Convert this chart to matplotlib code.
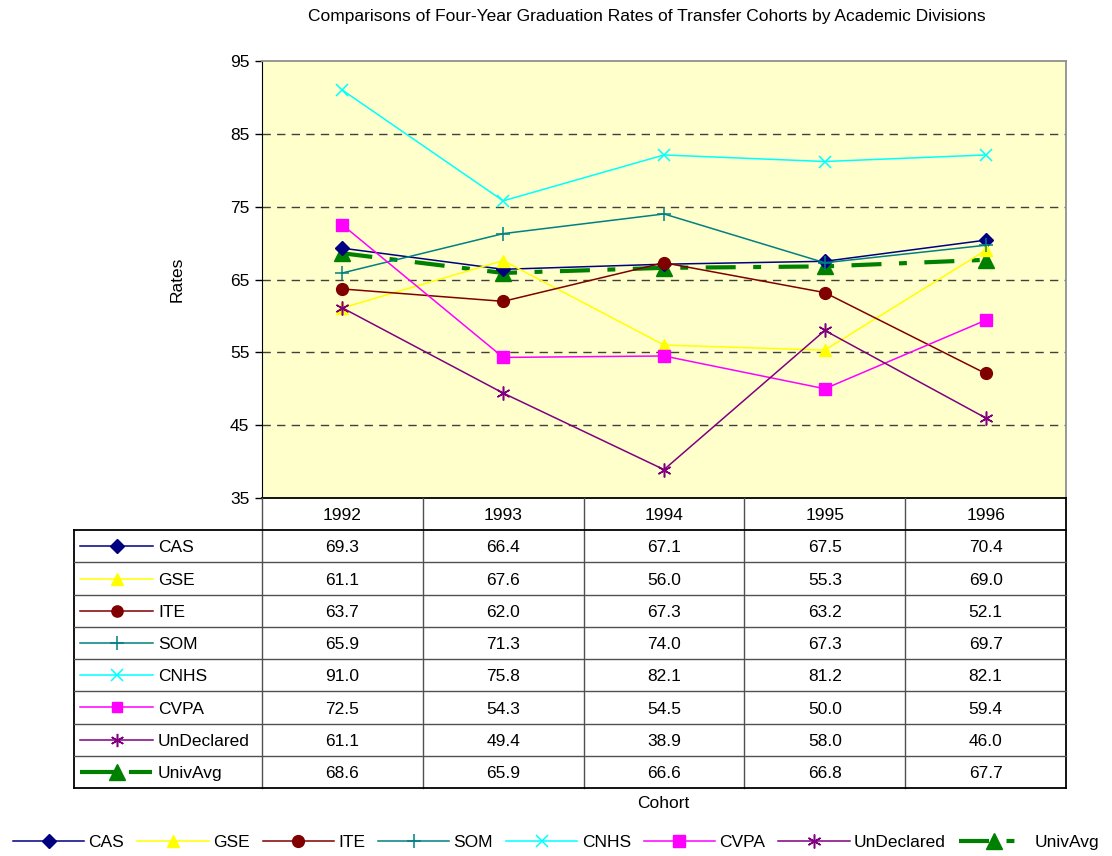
import matplotlib
matplotlib.use("Agg")
import matplotlib.pyplot as plt

plt.rcParams['font.family'] = ['Liberation Sans', 'DejaVu Sans']

years = ["1992", "1993", "1994", "1995", "1996"]
series_names = ["CAS", "GSE", "ITE", "SOM", "CNHS", "CVPA", "UnDeclared", "UnivAvg"]
cas = [69.3, 66.4, 67.1, 67.5, 70.4]
gse = [61.1, 67.6, 56.0, 55.3, 69.0]
ite = [63.7, 62.0, 67.3, 63.2, 52.1]
som = [65.9, 71.3, 74.0, 67.3, 69.7]
cnhs = [91.0, 75.8, 82.1, 81.2, 82.1]
cvpa = [72.5, 54.3, 54.5, 50.0, 59.4]
undeclared = [61.1, 49.4, 38.9, 58.0, 46.0]
univavg = [68.6, 65.9, 66.6, 66.8, 67.7]
values = [cas, gse, ite, som, cnhs, cvpa, undeclared, univavg]
yticks = [35, 45, 55, 65, 75, 85, 95]

styles = [
    dict(color="#000080", marker="D", ms=7, lw=1.1),
    dict(color="#FFFF00", marker="^", ms=9, lw=1.1),
    dict(color="#800000", marker="o", ms=8.5, lw=1.1),
    dict(color="#008080", marker="+", ms=10, lw=1.1, mew=1.1),
    dict(color="#00FFFF", marker="x", ms=8.5, lw=1.1, mew=1.1),
    dict(color="#FF00FF", marker="s", ms=8, lw=1.1),
    dict(color="#800080", marker=(6, 2, 0), ms=10, lw=1.1, mew=1.1),
    dict(color="#008000", marker="^", ms=12, lw=3, dashes=(7.2, 4.2, 1.9, 4.2)),
]

FS = 12.5
W, H = 1112, 856
fig = plt.figure(figsize=(W / 100, H / 100), dpi=100)

# main plot
L, R, T, B = 262, 1066, 61, 498
ax = fig.add_axes([L / W, 1 - B / H, (R - L) / W, (B - T) / H])
ax.set_facecolor("#FFFFCC")
x = list(range(len(years)))
handles = []
for name, vals, st in zip(series_names, values, styles):
    st = dict(st)
    d = st.pop("dashes", None)
    ln, = ax.plot(x, vals, color=st["color"], marker=st["marker"], ms=st["ms"],
                  lw=st["lw"], mew=st.get("mew", 1), mfc=st["color"], mec=st["color"],
                  label=name, zorder=3 if name != "UnivAvg" else 2.5)
    if d is not None:
        ln.set_dashes(d)
    handles.append(ln)
ax.set_xlim(-0.5, 4.5)
ax.set_ylim(35, 95)
ax.set_yticks(yticks)
ax.set_yticklabels([str(v) for v in yticks], fontsize=FS)
ax.set_xticks([])
for v in yticks[1:-1]:
    ax.axhline(v, color="#404040", lw=1, dashes=(6, 4.5), zorder=1)
ax.tick_params(axis="y", direction="out", length=5, width=1, color="black", pad=4)
ax.spines["left"].set_color("black")
ax.spines["bottom"].set_color("black")
ax.spines["bottom"].set_linewidth(1.3)
ax.spines["top"].set_color("#909090")
ax.spines["right"].set_color("#909090")
ax.spines["top"].set_linewidth(1.3)
ax.spines["right"].set_linewidth(1.3)
ax.set_ylabel("Rates", fontsize=FS, labelpad=33)

# data table
TL, TB = 74, 788
tax = fig.add_axes([TL / W, 1 - TB / H, (R - TL) / W, (TB - B) / H])
lab_w = (L - TL) / ((R - L) / 5)
nrows = len(series_names) + 1
tax.set_xlim(-lab_w, 5)
tax.set_ylim(nrows, 0)
tax.axis("off")
gc = "#505050"
for j in range(6):
    lw = 1.3 if j == 5 else 1
    tax.plot([j, j], [0, nrows], color="black" if j == 5 else gc, lw=lw, clip_on=False)
tax.plot([-lab_w, -lab_w], [1, nrows], color="black", lw=1.3, clip_on=False)
for i in range(1, nrows + 1):
    c = "black" if i in (1, nrows) else gc
    lw = 1.3 if i in (1, nrows) else 1
    tax.plot([-lab_w, 5], [i, i], color=c, lw=lw, clip_on=False)
for j, yr in enumerate(years):
    tax.text(j + 0.5, 0.55, yr, ha="center", va="center", fontsize=FS)
colw = (R - L) / 5
for i, (name, vals, st) in enumerate(zip(series_names, values, styles)):
    yy = i + 1.55
    for j, v in enumerate(vals):
        tax.text(j + 0.5, yy, f"{v:.1f}", ha="center", va="center", fontsize=FS)
    x0 = -lab_w + 6 / colw
    x1 = -lab_w + 79 / colw
    xm = -lab_w + 43 / colw
    if name == "UnivAvg":
        tax.plot([x0, xm - 3 / colw], [yy - 0.05] * 2, color=st["color"], lw=3, solid_capstyle="butt")
        tax.plot([xm + 12 / colw, x1 - 1 / colw], [yy - 0.05] * 2, color=st["color"], lw=3, solid_capstyle="butt")
    else:
        tax.plot([x0, x1], [yy - 0.05] * 2, color=st["color"], lw=st["lw"])
    tax.plot([xm], [yy - 0.05], color=st["color"], marker=st["marker"], ms=st["ms"] * 0.95,
             mew=st.get("mew", 1), mfc=st["color"], mec=st["color"])
    tax.text(-lab_w + 84 / colw, yy, name, ha="left", va="center", fontsize=FS)

fig.text(663 / W, 1 - 803 / H, "Cohort", ha="center", va="center", fontsize=FS)
fig.text(647 / W, 1 - 17 / H, "Comparisons of Four-Year Graduation Rates of Transfer Cohorts by Academic Divisions",
         ha="center", va="center", fontsize=12.5)

leg = fig.legend(handles=handles, loc="center", bbox_to_anchor=(0.5, 1 - 842 / H), ncol=8,
                 frameon=False, fontsize=FS, handlelength=4.1, handletextpad=0.25,
                 columnspacing=0.75, borderaxespad=0)

fig.savefig("out.png", dpi=100, facecolor="white")
